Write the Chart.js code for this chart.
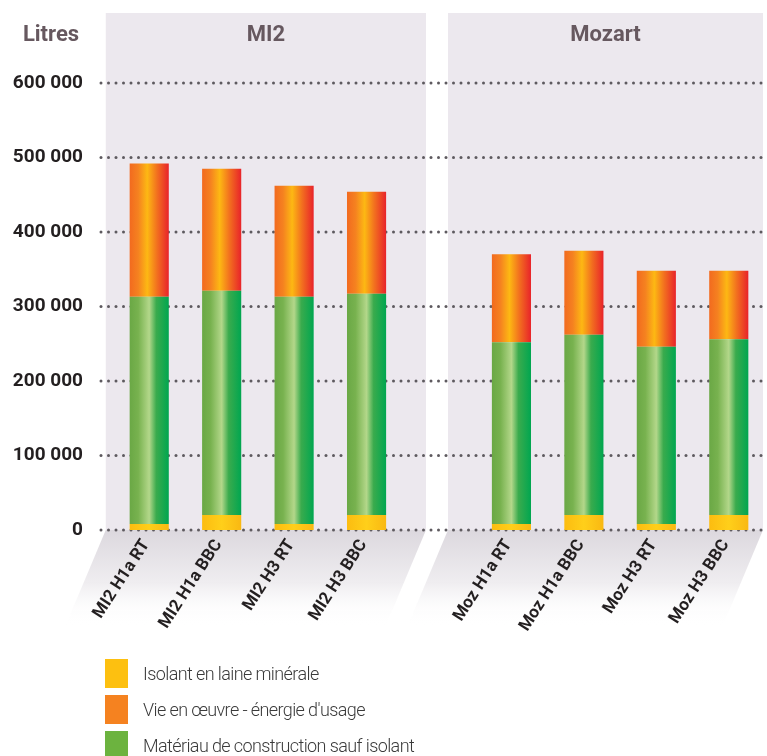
<!DOCTYPE html>
<html>
<head>
<meta charset="utf-8">
<script src="https://cdn.jsdelivr.net/npm/chart.js@4.4.1/dist/chart.umd.min.js"></script>
<style>
  html, body { margin: 0; padding: 0; background: #ffffff; }
  #wrap { position: relative; width: 767px; height: 756px; overflow: hidden; }
  #legend { position: absolute; left: 105px; top: 659px; font-family: Roboto, "Liberation Sans", sans-serif; font-weight: 300; font-size: 18px; letter-spacing: -0.6px; color: #3a3a3a; }
  .item { display: flex; align-items: center; height: 29px; margin-bottom: 7px; }
  .box { width: 23px; height: 29px; margin-right: 15px; flex: none; }
</style>
</head>
<body>
<div id="wrap">
  <canvas id="c" width="767" height="756"></canvas>
  <div id="legend"></div>
</div>
<script>
// ---- data ----
const groupNames = ['MI2', 'Mozart'];
const categories = ['MI2 H1a RT', 'MI2 H1a BBC', 'MI2 H3 RT', 'MI2 H3 BBC',
                    'Moz H1a RT', 'Moz H1a BBC', 'Moz H3 RT', 'Moz H3 BBC'];
const isolant     = [8000, 20000, 8000, 20000, 8000, 20000, 8000, 20000];
const materiau    = [305000, 301000, 305000, 297000, 244000, 242000, 238000, 236000];
const vieEnOeuvre = [179000, 164000, 149000, 137000, 118000, 113000, 102000, 92000];
const yTicks = [0, 100000, 200000, 300000, 400000, 500000, 600000];
const yTitle = 'Litres';

// ---- build library structures (a spacer category separates the two groups) ----
const perGroup = categories.length / groupNames.length;
function withGap(arr, filler) {
  return [...arr.slice(0, perGroup), filler, ...arr.slice(perGroup)];
}
const labels = withGap(categories, '');
const BAR_PCT = 0.54;

function gradientFill(stops, fallback) {
  return (c) => {
    const chart = c.chart;
    const xs = chart.scales && chart.scales.x;
    if (!xs || !chart.chartArea || c.dataIndex === undefined) return fallback;
    const step = xs.getPixelForValue(1) - xs.getPixelForValue(0);
    const cx = xs.getPixelForValue(c.dataIndex);
    const w = step * BAR_PCT;
    const g = chart.ctx.createLinearGradient(cx - w / 2, 0, cx + w / 2, 0);
    stops.forEach(s => g.addColorStop(s[0], s[1]));
    return g;
  };
}

const series = [
  { label: 'Isolant en laine minérale', data: isolant, legend: '#fdc010',
    fill: gradientFill([[0, '#fcbc10'], [0.5, '#ffcf1a'], [1, '#f9b812']], '#fdc010') },
  { label: 'Matériau de construction sauf isolant', data: materiau, legend: '#6cb33f',
    fill: gradientFill([[0, '#6aa845'], [0.22, '#78b24f'], [0.5, '#b3d78a'], [0.68, '#3aab4d'], [1, '#00a650']], '#4cae48') },
  { label: "Vie en œuvre - énergie d'usage", data: vieEnOeuvre, legend: '#f58220',
    fill: gradientFill([[0, '#f26a1f'], [0.22, '#f58220'], [0.45, '#fdb813'], [0.7, '#f2701f'], [1, '#e8232a']], '#f58220') }
];
const legendOrder = [0, 2, 1];

const fmt = v => String(v).replace(/\B(?=(\d{3})+(?!\d))/g, ' ');

const panelPlugin = {
  id: 'panels',
  beforeDraw(chart) {
    const { ctx, chartArea: a, scales: { x } } = chart;
    const step = x.getPixelForValue(1) - x.getPixelForValue(0);
    const gapX = x.getPixelForValue(perGroup);
    const panels = [
      [x.getPixelForValue(0) - 0.6 * step, gapX - 13],
      [gapX + 9, a.right - 2]
    ];
    const top = 13, fh = 95, slope = 0.42;
    ctx.save();
    panels.forEach((p, i) => {
      const [l, r] = p;
      ctx.fillStyle = '#ece8ee';
      ctx.fillRect(l, top, r - l, a.bottom - top);
      const g = ctx.createLinearGradient(0, a.bottom, 0, a.bottom + fh);
      g.addColorStop(0, '#dcd8de');
      g.addColorStop(0.55, '#efedf0');
      g.addColorStop(1, 'rgba(255,255,255,0)');
      ctx.fillStyle = g;
      ctx.beginPath();
      ctx.moveTo(l, a.bottom);
      ctx.lineTo(r, a.bottom);
      ctx.lineTo(r - slope * fh, a.bottom + fh);
      ctx.lineTo(l - slope * fh, a.bottom + fh);
      ctx.closePath();
      ctx.fill();
      ctx.fillStyle = '#66585f';
      ctx.font = 'bold 22px Roboto, sans-serif';
      ctx.textAlign = 'center';
      ctx.textBaseline = 'middle';
      ctx.fillText(groupNames[i], (l + r) / 2, 35);
    });
    ctx.fillText(yTitle, 51, 35);
    ctx.restore();
  }
};

// dotted gridlines at each y tick (positions from the y scale)
const dotGridPlugin = {
  id: 'dotGrid',
  beforeDatasetsDraw(chart) {
    const { ctx, chartArea: a, scales: { y } } = chart;
    ctx.save();
    ctx.fillStyle = '#5e5a5f';
    y.ticks.forEach(t => {
      const py = y.getPixelForValue(t.value);
      for (let px = a.left - 12; px <= a.right - 2; px += 7.5) {
        ctx.beginPath();
        ctx.arc(px, py, 1.5, 0, Math.PI * 2);
        ctx.fill();
      }
    });
    ctx.restore();
  }
};

const chart = new Chart(document.getElementById('c'), {
  type: 'bar',
  data: {
    labels,
    datasets: series.map(s => ({
      label: s.label,
      data: withGap(s.data, null),
      backgroundColor: s.fill,
      borderWidth: 0,
      barPercentage: BAR_PCT,
      categoryPercentage: 1
    }))
  },
  options: {
    responsive: false,
    animation: false,
    layout: { padding: { top: 83, right: 2, left: 0, bottom: 0 } },
    plugins: { legend: { display: false }, tooltip: { enabled: false } },
    scales: {
      x: {
        stacked: true,
        grid: { display: false, drawTicks: false },
        border: { display: false },
        ticks: {
          minRotation: 57, maxRotation: 57, padding: 6, autoSkip: false, labelOffset: -3,
          color: '#231f20', font: { family: 'Roboto', weight: 'bold', size: 17 }
        },
        afterFit(scale) { scale.height = 226; }
      },
      y: {
        stacked: true,
        min: 0, max: 600000,
        afterBuildTicks(scale) { scale.ticks = yTicks.map(v => ({ value: v })); },
        grid: { display: false, drawTicks: false },
        border: { display: false },
        ticks: {
          padding: 30, color: '#231f20',
          font: { family: 'Roboto', weight: 'bold', size: 19 },
          callback: v => fmt(v)
        },
        afterFit(scale) { scale.width = 113; }
      }
    }
  },
  plugins: [panelPlugin, dotGridPlugin]
});

// HTML legend built from the datasets
const legendEl = document.getElementById('legend');
legendOrder.forEach(i => {
  const row = document.createElement('div');
  row.className = 'item';
  const box = document.createElement('span');
  box.className = 'box';
  box.style.background = series[i].legend;
  const txt = document.createElement('span');
  txt.textContent = chart.data.datasets[i].label;
  row.appendChild(box);
  row.appendChild(txt);
  legendEl.appendChild(row);
});
</script>
</body>
</html>
